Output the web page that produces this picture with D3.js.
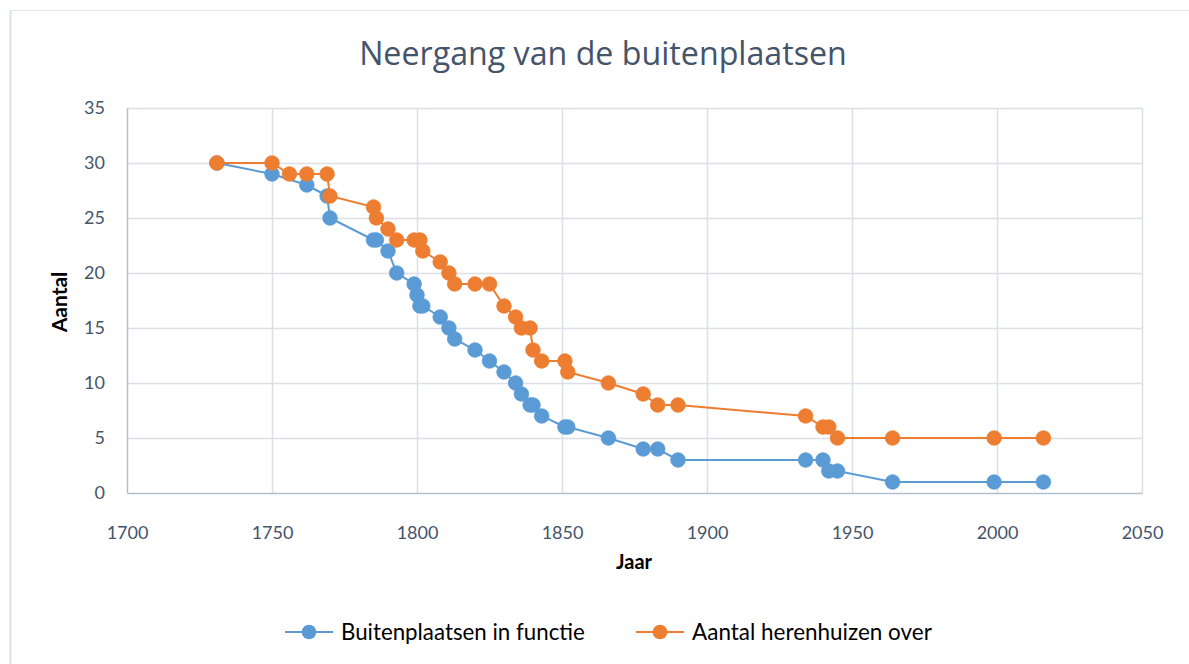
<!DOCTYPE html>
<html>
<head>
<meta charset="utf-8">
<script src="https://cdn.jsdelivr.net/npm/d3@7"></script>
<style>
  html, body { margin: 0; padding: 0; background: #fff; }
  svg { display: block; }
</style>
</head>
<body>
<svg id="chart" width="1189" height="664"></svg>
<script>
const title = "Neergang van de buitenplaatsen";
const xAxisTitle = "Jaar";
const yAxisTitle = "Aantal";
const seriesNames = ["Buitenplaatsen in functie", "Aantal herenhuizen over"];
const xTicks = [1700, 1750, 1800, 1850, 1900, 1950, 2000, 2050];
const yTicks = [0, 5, 10, 15, 20, 25, 30, 35];

const blueYears  = [1731,1750,1762,1769,1770,1785,1786,1790,1793,1799,1800,1801,1802,1808,1811,1813,1820,1825,1830,1834,1836,1839,1840,1843,1851,1852,1866,1878,1883,1890,1934,1940,1942,1945,1964,1999,2016];
const blueValues = [30,29,28,27,25,23,23,22,20,19,18,17,17,16,15,14,13,12,11,10,9,8,8,7,6,6,5,4,4,3,3,3,2,2,1,1,1];

const orangeYears  = [1731,1750,1756,1762,1769,1770,1785,1786,1790,1793,1799,1801,1802,1808,1811,1813,1820,1825,1830,1834,1836,1839,1840,1843,1851,1852,1866,1878,1883,1890,1934,1940,1942,1945,1964,1999,2016];
const orangeValues = [30,30,29,29,29,27,26,25,24,23,23,23,22,21,20,19,19,19,17,16,15,15,13,12,12,11,10,9,8,8,7,6,6,5,5,5,5];

const colors = ["#5B9BD5", "#ED7D31"];
const FONT = "Lato, 'Open Sans', sans-serif";

const svg = d3.select("#chart");

// fit a text element's font size so its width matches a target
function fitWidth(sel, target) {
  const node = sel.node();
  const fs = parseFloat(sel.style("font-size"));
  const w = node.getComputedTextLength();
  if (w > 0) sel.style("font-size", (fs * target / w).toFixed(2) + "px");
  return sel;
}

// chart frame (top + left edges visible)
svg.append("line").attr("x1", 10).attr("x2", 1189).attr("y1", 10.5).attr("y2", 10.5)
  .attr("stroke", "#E1E4EA").attr("stroke-width", 1);
svg.append("line").attr("x1", 10.5).attr("x2", 10.5).attr("y1", 10).attr("y2", 664)
  .attr("stroke", "#DDE2EA").attr("stroke-width", 2);

const x = d3.scaleLinear().domain([1700, 2050]).range([127, 1142]);
const y = d3.scaleLinear().domain([0, 35]).range([493, 108]);

// gridlines
const grid = svg.append("g");
grid.selectAll(".hg").data(yTicks.filter(d => d > 0)).enter().append("line")
  .attr("x1", x(1700)).attr("x2", x(2050))
  .attr("y1", d => Math.round(y(d)) + 0.5).attr("y2", d => Math.round(y(d)) + 0.5)
  .attr("stroke", "#DCE0E6").attr("stroke-width", 1.5);
grid.selectAll(".vg").data(xTicks.filter(d => d > 1700)).enter().append("line")
  .attr("x1", d => Math.round(x(d)) + 0.5).attr("x2", d => Math.round(x(d)) + 0.5)
  .attr("y1", y(35)).attr("y2", y(0))
  .attr("stroke", "#DCE0E6").attr("stroke-width", 1.5);

// axes
const xAxis = d3.axisBottom(x).tickValues(xTicks).tickFormat(d3.format("d")).tickSize(0).tickPadding(40);
const yAxis = d3.axisLeft(y).tickValues(yTicks).tickSize(0).tickPadding(22);

const gx = svg.append("g").attr("transform", `translate(0,${y(0)})`).call(xAxis);
const gy = svg.append("g").attr("transform", `translate(${x(1700)},0)`).call(yAxis);
[gx, gy].forEach(g => {
  g.select(".domain").attr("stroke", "#B4BFCD").attr("stroke-width", 1.5);
  g.selectAll("text").attr("fill", "#44546A").style("font-family", FONT).style("font-size", "18px");
});
gx.selectAll("text").attr("dy", "0.35em");

// axis titles
svg.append("text").attr("x", 634).attr("y", 569).attr("text-anchor", "middle")
  .style("font-family", FONT).style("font-size", "20px").style("font-weight", "bold")
  .attr("fill", "#000").text(xAxisTitle);
svg.append("text").attr("transform", "translate(67,302) rotate(-90)").attr("text-anchor", "middle")
  .style("font-family", FONT).style("font-size", "21px").style("font-weight", "bold")
  .attr("fill", "#000").text(yAxisTitle);

// title
const t = svg.append("text").attr("x", 603).attr("y", 65).attr("text-anchor", "middle")
  .style("font-family", "'Open Sans', Lato, sans-serif").style("font-size", "31px").style("font-weight", "400")
  .attr("fill", "#44546A").text(title);
fitWidth(t, 488);

// series
const seriesData = [
  blueYears.map((yr, i) => ({ x: yr, y: blueValues[i] })),
  orangeYears.map((yr, i) => ({ x: yr, y: orangeValues[i] }))
];
const line = d3.line().x(d => x(d.x)).y(d => y(d.y));

seriesData.forEach((data, si) => {
  const g = svg.append("g");
  g.append("path").datum(data).attr("d", line).attr("fill", "none")
    .attr("stroke", colors[si]).attr("stroke-width", 2);
  g.selectAll("circle").data(data).enter().append("circle")
    .attr("cx", d => x(d.x)).attr("cy", d => y(d.y)).attr("r", 7.3)
    .attr("fill", colors[si]).attr("stroke", colors[si]).attr("stroke-width", 0.8);
});

// legend
const legendItems = [
  { name: seriesNames[0], color: colors[0], x0: 285, w: 244 },
  { name: seriesNames[1], color: colors[1], x0: 636, w: 240 }
];
const lg = svg.append("g");
legendItems.forEach(it => {
  lg.append("line").attr("x1", it.x0).attr("x2", it.x0 + 48).attr("y1", 632).attr("y2", 632)
    .attr("stroke", it.color).attr("stroke-width", 2);
  lg.append("circle").attr("cx", it.x0 + 24).attr("cy", 632).attr("r", 7.3).attr("fill", it.color);
  const tx = lg.append("text").attr("x", it.x0 + 56).attr("y", 632).attr("dy", "0.35em")
    .style("font-family", FONT).style("font-size", "20px").attr("fill", "#000").text(it.name);
  fitWidth(tx, it.w);
});
</script>
</body>
</html>
